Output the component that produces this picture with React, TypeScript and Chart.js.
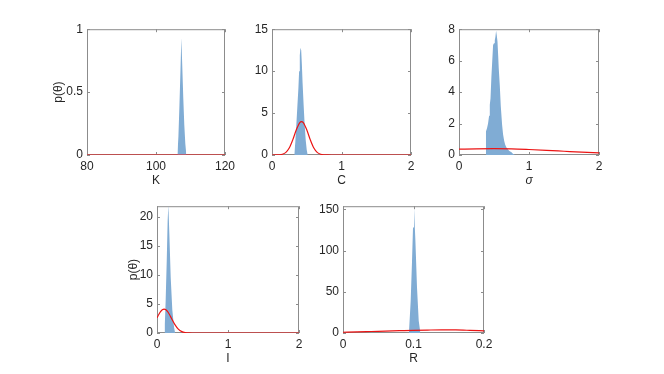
import React, { useEffect, useRef } from 'react';
import { Chart, registerables } from 'chart.js';

Chart.register(...registerables);

// ---------- data ----------
// K panel
const kHistX = [106.2, 106.5, 106.8, 107.1, 107.35, 107.6, 107.9, 108.2, 108.5, 108.8];
const kHistY = [0, 0.15, 0.4, 0.68, 0.93, 0.72, 0.46, 0.24, 0.09, 0];
const kPriorX = [80, 120];
const kPriorY = [0, 0];
const kXTicks = [80, 100, 120];
const kYTicks = [0, 0.5, 1];

// C panel
const cHistX = [0.32, 0.335, 0.35, 0.365, 0.38, 0.39, 0.4, 0.41, 0.42, 0.43, 0.44, 0.455, 0.47, 0.485, 0.5, 0.515];
const cHistY = [0, 1.5, 3.6, 5.8, 8.0, 10.0, 11.9, 12.8, 12.5, 10.8, 8.6, 6.0, 3.6, 1.8, 0.6, 0];
const cPriorX = [0, 0.05, 0.1, 0.15, 0.2, 0.25, 0.3, 0.35, 0.4, 0.425, 0.45, 0.5, 0.55, 0.6, 0.65, 0.7, 0.75, 0.8, 0.85, 2];
const cPriorY = [0, 0.004, 0.02, 0.09, 0.32, 0.86, 1.83, 3.01, 3.87, 3.99, 3.87, 3.01, 1.83, 0.86, 0.32, 0.09, 0.02, 0.004, 0, 0];
const cXTicks = [0, 1, 2];
const cYTicks = [0, 5, 10, 15];

// sigma panel
const sHistX = [0.38, 0.385, 0.4, 0.415, 0.43, 0.44, 0.45, 0.463, 0.475, 0.487, 0.5, 0.511, 0.52, 0.53, 0.54, 0.55, 0.56, 0.568, 0.583, 0.597, 0.616, 0.63, 0.645, 0.66, 0.678, 0.7, 0.72, 0.75, 0.77, 0.8];
const sHistY = [0, 1.5, 1.7, 2.0, 2.5, 3.2, 3.6, 5.0, 6.0, 7.0, 7.1, 7.3, 7.5, 7.9, 7.6, 7.2, 6.3, 5.5, 4.4, 3.1, 1.9, 1.3, 0.9, 0.65, 0.47, 0.35, 0.25, 0.18, 0.08, 0];
const sPriorX = [0, 0.25, 0.5, 0.75, 1, 1.25, 1.5, 1.75, 2];
const sPriorY = [0.37, 0.39, 0.4, 0.39, 0.35, 0.3, 0.24, 0.18, 0.13];
const sXTicks = [0, 1, 2];
const sYTicks = [0, 2, 4, 6, 8];

// I panel
const iHistX = [0.1, 0.11, 0.122, 0.137, 0.15, 0.16, 0.174, 0.193, 0.216, 0.24, 0.255];
const iHistY = [0, 1.5, 5.6, 12.4, 19.3, 22, 17, 9.6, 3.9, 1.0, 0];
const iPriorX = [0, 0.025, 0.05, 0.075, 0.1, 0.125, 0.15, 0.175, 0.2, 0.25, 0.3, 0.35, 0.4, 0.45, 0.5, 0.6, 2];
const iPriorY = [2.61, 3.18, 3.66, 3.99, 4.1, 3.99, 3.66, 3.18, 2.61, 1.48, 0.67, 0.24, 0.07, 0.016, 0.003, 0, 0];
const iXTicks = [0, 1, 2];
const iYTicks = [0, 5, 10, 15, 20];

// R panel
const rHistX = [0.0935, 0.096, 0.0979, 0.0993, 0.1007, 0.1027, 0.105, 0.1074, 0.1098];
const rHistY = [0, 39, 87, 128, 152, 112, 55, 15, 0];
const rPriorX = [0, 0.02, 0.04, 0.06, 0.08, 0.1, 0.12, 0.14, 0.16, 0.18, 0.2];
const rPriorY = [0.9, 1.3, 1.8, 2.3, 2.8, 3.3, 3.6, 3.8, 3.7, 3.2, 2.6];
const rXTicks = [0, 0.1, 0.2];
const rYTicks = [0, 50, 100, 150];

// ---------- styling ----------
const FONT = '"Liberation Sans", Arial, Helvetica, sans-serif';
const TEXT = '#262626';
const AXIS = 'rgb(140,140,140)';
const HIST = 'rgb(128,172,212)';
const PRIOR = 'rgb(235,20,20)';

const Y_W = 50;
const X_H = 40;
const PAD_T = 10;
const PAD_R = 20;

const toPts = (xs: number[], ys: number[]) => xs.map((x, i) => ({ x, y: ys[i] }));
const fmt = (v: number) => String(+Number(v).toFixed(4));

const boxPlugin = {
  id: 'matlabBox',
  beforeDatasetsDraw(chart: any) {
    const { ctx, chartArea: a } = chart;
    const xs = chart.scales.x;
    const ys = chart.scales.y;
    ctx.save();
    ctx.strokeStyle = AXIS;
    ctx.lineWidth = 1;
    ctx.strokeRect(a.left + 0.5, a.top + 0.5, a.right - a.left - 1, a.bottom - a.top - 1);
    const tl = 3;
    ctx.beginPath();
    xs.ticks.forEach((t: any) => {
      const px = Math.round(xs.getPixelForValue(t.value)) + 0.5;
      ctx.moveTo(px, a.bottom);
      ctx.lineTo(px, a.bottom - tl);
      ctx.moveTo(px, a.top);
      ctx.lineTo(px, a.top + tl);
    });
    ys.ticks.forEach((t: any) => {
      const py = Math.round(ys.getPixelForValue(t.value)) + 0.5;
      ctx.moveTo(a.left, py);
      ctx.lineTo(a.left + tl, py);
      ctx.moveTo(a.right, py);
      ctx.lineTo(a.right - tl, py);
    });
    ctx.stroke();
    ctx.restore();
  },
};

type PanelCfg = {
  L: number; T: number; R: number; B: number;
  histX: number[]; histY: number[];
  priorX: number[]; priorY: number[];
  xMin: number; xMax: number; yMin: number; yMax: number;
  xTicks: number[]; yTicks: number[];
  xTitle: string; italic?: boolean;
  yTitle?: string; yTitlePad?: number;
};

const panels: PanelCfg[] = [
  { L: 87, T: 28, R: 225, B: 155, histX: kHistX, histY: kHistY, priorX: kPriorX, priorY: kPriorY,
    xMin: 80, xMax: 120, yMin: 0, yMax: 1, xTicks: kXTicks, yTicks: kYTicks, xTitle: 'K', yTitle: 'p(θ)', yTitlePad: 14 },
  { L: 272, T: 28, R: 411, B: 155, histX: cHistX, histY: cHistY, priorX: cPriorX, priorY: cPriorY,
    xMin: 0, xMax: 2, yMin: 0, yMax: 15, xTicks: cXTicks, yTicks: cYTicks, xTitle: 'C' },
  { L: 459, T: 28, R: 599, B: 155, histX: sHistX, histY: sHistY, priorX: sPriorX, priorY: sPriorY,
    xMin: 0, xMax: 2, yMin: 0, yMax: 8, xTicks: sXTicks, yTicks: sYTicks, xTitle: 'σ', italic: true },
  { L: 157, T: 205, R: 299, B: 333, histX: iHistX, histY: iHistY, priorX: iPriorX, priorY: iPriorY,
    xMin: 0, xMax: 2, yMin: 0, yMax: 21.8, xTicks: iXTicks, yTicks: iYTicks, xTitle: 'I', yTitle: 'p(θ)', yTitlePad: 19 },
  { L: 343, T: 205, R: 484, B: 333, histX: rHistX, histY: rHistY, priorX: rPriorX, priorY: rPriorY,
    xMin: 0, xMax: 0.2, yMin: 0, yMax: 154, xTicks: rXTicks, yTicks: rYTicks, xTitle: 'R' },
];

function Panel({ cfg }: { cfg: PanelCfg }) {
  const ref = useRef<HTMLCanvasElement>(null);
  const w = cfg.R - cfg.L + Y_W + PAD_R;
  const h = cfg.B - cfg.T + X_H + PAD_T;
  useEffect(() => {
    if (!ref.current) return;
    const chart = new Chart(ref.current, {
      type: 'line',
      data: {
        datasets: [
          {
            data: toPts(cfg.priorX, cfg.priorY),
            borderColor: PRIOR,
            borderWidth: 1.2,
            pointRadius: 0,
            fill: false,
            cubicInterpolationMode: 'monotone',
          },
          {
            data: toPts(cfg.histX, cfg.histY),
            borderWidth: 0,
            borderColor: 'rgba(0,0,0,0)',
            backgroundColor: HIST,
            pointRadius: 0,
            fill: 'origin',
            tension: 0,
          },
        ] as any,
      },
      options: {
        animation: false,
        responsive: false,
        maintainAspectRatio: false,
        events: [],
        layout: { padding: { top: PAD_T, right: PAD_R, left: 0, bottom: 0 } },
        plugins: { legend: { display: false }, tooltip: { enabled: false } },
        scales: {
          x: {
            type: 'linear',
            min: cfg.xMin,
            max: cfg.xMax,
            grid: { display: false, drawTicks: false },
            border: { display: false },
            afterBuildTicks: (s: any) => { s.ticks = cfg.xTicks.map((v) => ({ value: v })); },
            afterFit: (s: any) => { s.height = X_H; },
            ticks: {
              autoSkip: false, maxRotation: 0, padding: 4, color: TEXT,
              font: { family: FONT, size: 12 },
              callback: (v: any) => fmt(v),
            },
            title: {
              display: true, text: cfg.xTitle, color: TEXT,
              font: { family: FONT, size: 12, style: cfg.italic ? 'italic' : 'normal' },
              padding: { top: 0, bottom: 7 },
            },
          },
          y: {
            type: 'linear',
            min: cfg.yMin,
            max: cfg.yMax,
            grid: { display: false, drawTicks: false },
            border: { display: false },
            afterBuildTicks: (s: any) => { s.ticks = cfg.yTicks.map((v) => ({ value: v })); },
            afterFit: (s: any) => { s.width = Y_W; },
            ticks: {
              autoSkip: false, padding: 4, color: TEXT,
              font: { family: FONT, size: 12 },
              callback: (v: any) => fmt(v),
            },
            title: {
              display: !!cfg.yTitle, text: cfg.yTitle || '', color: TEXT,
              font: { family: FONT, size: 12 },
              padding: { top: cfg.yTitlePad || 0, bottom: 0 },
            },
          },
        },
      } as any,
      plugins: [boxPlugin],
    });
    return () => chart.destroy();
  }, []);
  return (
    <canvas
      ref={ref}
      width={w}
      height={h}
      style={{ position: 'absolute', left: cfg.L - Y_W, top: cfg.T - PAD_T, width: w, height: h }}
    />
  );
}

export default function App() {
  return (
    <div style={{ position: 'absolute', left: 0, top: 0, width: 664, height: 374, background: '#fff', overflow: 'hidden' }}>
      {panels.map((p, i) => (
        <Panel key={i} cfg={p} />
      ))}
    </div>
  );
}
